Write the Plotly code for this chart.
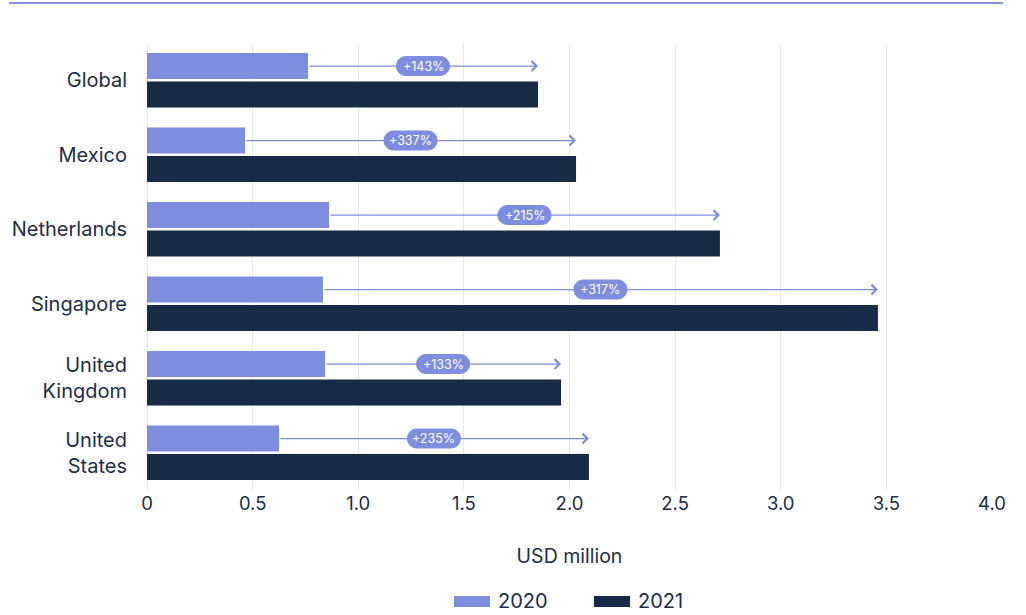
import plotly.graph_objects as go

# data (USD million)
countries = ["Global", "Mexico", "Netherlands", "Singapore", "United<br>Kingdom", "United<br>States"]
values_2020 = [0.762, 0.464, 0.862, 0.833, 0.843, 0.625]
values_2021 = [1.851, 2.031, 2.712, 3.460, 1.960, 2.092]
growth_labels = ["+143%", "+337%", "+215%", "+317%", "+133%", "+235%"]
x_ticks = [0, 0.5, 1.0, 1.5, 2.0, 2.5, 3.0, 3.5, 4.0]
x_tick_labels = ["0", "0.5", "1.0", "1.5", "2.0", "2.5", "3.0", "3.5", "4.0"]

LIGHT = "#7f8ddf"
DARK = "#172b47"
TEXT = "#1d2e4a"
FONT = "Inter, Noto Sans, sans-serif"

# plot area in pixels
L, R, T, B = 147, 992, 43, 490

BARGAP = 0.24
offset_2020 = -(1 - BARGAP) / 4  # centre of first bar within the group


def px(x):
    return (x - L) / (R - L)


def py(y):
    return (B - y) / (B - T)


def pill_path(w, h):
    # rounded capsule in pixels, centred on the anchor
    r = h / 2
    k = 0.5523 * r
    x0, x1 = -w / 2 + r, w / 2 - r
    return (f"M{x0},{-r} L{x1},{-r} "
            f"C{x1 + k},{-r} {x1 + r},{-k} {x1 + r},0 "
            f"C{x1 + r},{k} {x1 + k},{r} {x1},{r} "
            f"L{x0},{r} "
            f"C{x0 - k},{r} {x0 - r},{k} {x0 - r},0 "
            f"C{x0 - r},{-k} {x0 - k},{-r} {x0},{-r} Z")


fig = go.Figure()
fig.add_trace(go.Bar(y=countries, x=values_2020, orientation="h", name="2020",
                     marker=dict(color=LIGHT, line=dict(width=0))))
fig.add_trace(go.Bar(y=countries, x=values_2021, orientation="h", name="2021",
                     marker=dict(color=DARK, line=dict(width=0))))

# growth arrows with pill labels
for i, (a, b, lab) in enumerate(zip(values_2020, values_2021, growth_labels)):
    yy = i + offset_2020
    fig.add_annotation(x=b, y=yy, ax=a, ay=yy, xref="x", yref="y", axref="x", ayref="y",
                       text="", showarrow=True, arrowhead=4, arrowsize=1.6,
                       arrowwidth=1.2, arrowcolor=LIGHT, standoff=0, startstandoff=0)
    mid = (a + b) / 2
    fig.add_shape(type="path", xref="x", yref="y", xsizemode="pixel", ysizemode="pixel",
                  xanchor=mid, yanchor=yy, path=pill_path(54, 20),
                  fillcolor=LIGHT, line=dict(width=0))
    fig.add_annotation(x=mid, y=yy, xref="x", yref="y", text=lab, showarrow=False,
                       font=dict(family=FONT, size=12.5, color="white"))

# top rule
fig.add_shape(type="line", xref="paper", yref="paper", x0=px(9), x1=px(1003), y0=py(3), y1=py(3),
              line=dict(color="#8792e2", width=2))

# custom legend with wide swatches
for name, color, x0 in [("2020", LIGHT, 454), ("2021", DARK, 594)]:
    fig.add_shape(type="rect", xref="paper", yref="paper", x0=px(x0), x1=px(x0 + 36),
                  y0=py(607), y1=py(596), fillcolor=color, line=dict(width=0))
    fig.add_annotation(xref="paper", yref="paper", x=px(x0 + 42), y=py(601),
                       xanchor="left", yanchor="middle", text=name, showarrow=False,
                       font=dict(family=FONT, size=20, color=TEXT))

fig.update_layout(
    width=1026, height=615,
    margin=dict(l=L, r=1026 - R, t=T, b=615 - B),
    paper_bgcolor="white", plot_bgcolor="white",
    barmode="group", bargap=BARGAP, bargroupgap=0.08,
    showlegend=False,
    font=dict(family=FONT, color=TEXT),
    xaxis=dict(range=[0, 4.0], tickvals=x_ticks, ticktext=x_tick_labels,
               showgrid=True, gridcolor="#e9e9ec", gridwidth=1,
               zeroline=True, zerolinecolor="#e9e9ec", zerolinewidth=1,
               showline=False, ticks="", tickfont=dict(size=18.5, color=TEXT),
               title=dict(text="USD million", font=dict(size=19.5, color=TEXT), standoff=36)),
    yaxis=dict(autorange="reversed", showgrid=False, showline=False, ticks="",
               tickfont=dict(size=20, color=TEXT), ticklabelstandoff=19),
)

# the page's default body margin would shift the figure by 8px
fig.write_html("out.html", config={"displayModeBar": False},
               post_script="document.body.style.margin='0px';")
